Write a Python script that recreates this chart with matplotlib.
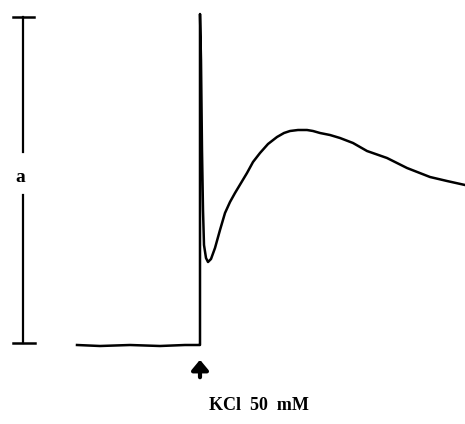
import numpy as np
import matplotlib.pyplot as plt
plt.switch_backend('agg')

# trace (x = chart position, y = pen position, screen units)
base_x = [77, 100, 130, 160, 185, 199]
base_y = [345, 346, 345, 346, 345, 345]
resp_x = [200, 200, 201, 202, 203, 204, 206, 208, 211, 215, 220, 225, 230, 235, 241,
          247, 253, 260, 268, 277, 284, 290, 298, 307, 313, 320, 330, 340, 353, 367,
          387, 407, 430, 447, 465]
resp_y = [345, 14, 60, 150, 210, 245, 258, 262, 259, 248, 230, 213, 202, 193, 183,
          173, 162, 153, 144, 137, 133, 131, 130, 130, 131, 133, 135, 138, 143, 151,
          158, 168, 177, 181, 185]

# scale bar "a"
bar_x = 23
bar_top, bar_bottom = 17, 343
bar_gap = (152, 195)

stim_label = "KCl  50  mM"

fig = plt.figure(figsize=(4.65, 4.24), dpi=100)
ax = fig.add_axes([0, 0, 1, 1])
ax.set_xlim(0, 465)
ax.set_ylim(424, 0)
ax.axis('off')

ax.plot(base_x + resp_x, base_y + resp_y, c='k', lw=1.8, solid_joinstyle='round')

# scale bar with caps
ax.plot([bar_x, bar_x], [bar_top, bar_gap[0]], c='k', lw=1.6)
ax.plot([bar_x, bar_x], [bar_gap[1], bar_bottom], c='k', lw=1.6)
ax.plot([bar_x - 10, bar_x + 11], [bar_top, bar_top], c='k', lw=1.8)
ax.plot([bar_x - 10, bar_x + 12], [bar_bottom, bar_bottom], c='k', lw=1.8)
ax.text(bar_x - 3, 178, "a", ha='center', va='center', fontsize=14,
        fontweight='bold', family='Liberation Serif')

# stimulus arrow
ax.annotate("", xy=(200, 357), xytext=(200, 380),
            arrowprops=dict(arrowstyle='-|>,head_width=0.5,head_length=0.6',
                            lw=3, color='k'))
ax.text(259, 406, stim_label, ha='center', va='center', fontsize=13,
        fontweight='bold', family='Liberation Serif')

plt.savefig("out.png", dpi=100)
